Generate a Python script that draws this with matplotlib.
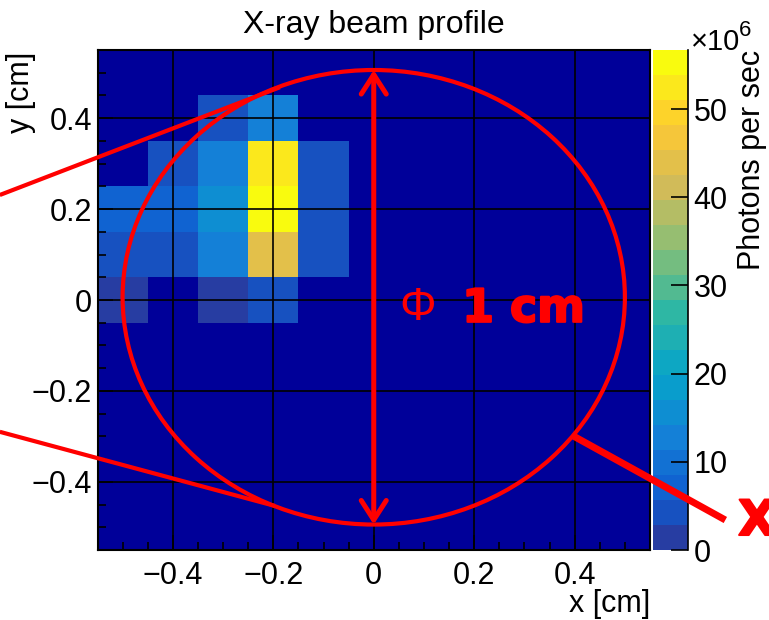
import numpy as np
import matplotlib
matplotlib.use("Agg")
import matplotlib.pyplot as plt
import matplotlib.patheffects as pe
from matplotlib.colors import LinearSegmentedColormap, ListedColormap, BoundaryNorm
from matplotlib.patches import Ellipse
from matplotlib.ticker import MultipleLocator, FuncFormatter

plt.rcParams["font.family"] = ["Liberation Sans", "DejaVu Sans"]

# 11 x 11 bins of 1 mm
x_edges = np.linspace(-0.55, 0.55, 12)
y_edges = np.linspace(-0.55, 0.55, 12)

# photon rate in 1e6 / s, one list per row from y = -0.5 (bottom) to y = 0.5 (top)
zero_row = [0.0] * 11
rate_rows = [
    zero_row,
    zero_row,
    zero_row,
    zero_row,
    zero_row,
    [1.8, 0.0, 1.8, 4.3, 0.0, 0, 0, 0, 0, 0, 0],
    [4.3, 4.3, 12.8, 44.0, 4.3, 0, 0, 0, 0, 0, 0],
    [7.2, 7.2, 15.6, 56.7, 4.3, 0, 0, 0, 0, 0, 0],
    [0.0, 4.3, 12.8, 52.5, 4.3, 0, 0, 0, 0, 0, 0],
    [0.0, 0.0, 4.3, 12.8, 0.0, 0, 0, 0, 0, 0, 0],
    zero_row,
]
cbar_ticks = [0, 10, 20, 30, 40, 50]
x_ticks = [-0.4, -0.2, 0.0, 0.2, 0.4]
y_ticks = [-0.4, -0.2, 0.0, 0.2, 0.4]

# collimator sketch (cm): circle, its diameter arrow and the guide lines
spot_center = (0.0, 0.006)
spot_diameter = 1.0
guide_top = ([-0.7445, -0.187], [0.231, 0.468])
guide_bottom = ([-0.7445, -0.197], [-0.290, -0.453])
guide_right = ([0.397, 0.700], [-0.299, -0.484])

# ROOT kBird palette, 20 contour levels
stops = [0.0, 0.125, 0.25, 0.375, 0.5, 0.625, 0.75, 0.875, 1.0]
red = [0.2082, 0.0592, 0.0780, 0.0232, 0.1802, 0.5301, 0.8186, 0.9956, 0.9764]
green = [0.1664, 0.3599, 0.5041, 0.6419, 0.7178, 0.7492, 0.7328, 0.7862, 0.9832]
blue = [0.5293, 0.8120, 0.8419, 0.7914, 0.6425, 0.4662, 0.3499, 0.1968, 0.0539]
bird = LinearSegmentedColormap.from_list(
    "bird", list(zip(stops, zip(red, green, blue))), N=255)
n_levels = 20
cmap = ListedColormap([bird((i + 0.99) / n_levels) for i in range(n_levels)])

rate = np.ma.masked_equal(np.array(rate_rows), 0.0)
zmax = rate.max()
norm = BoundaryNorm(np.linspace(0, zmax, n_levels + 1), n_levels)

W, H = 769, 620
fig = plt.figure(figsize=(W / 100, H / 100), dpi=100)


def fx(px):
    return px / W


def fy(py):
    return 1 - py / H


ax = fig.add_axes([fx(97.5), fy(550), fx(650) - fx(97.5), fy(50) - fy(550)])
ax.set_zorder(3)  # overlay lines must pass over the palette
ax.set_facecolor("#000099")
mesh = ax.pcolormesh(x_edges, y_edges, rate, cmap=cmap, norm=norm)
ax.set_xlim(-0.55, 0.55)
ax.set_ylim(-0.55, 0.55)

fmt = FuncFormatter(lambda v, _: "0" if abs(v) < 1e-9 else f"{v:.1f}".replace("-", "\u2212"))
ax.set_xticks(x_ticks)
ax.set_yticks(y_ticks)
ax.xaxis.set_major_formatter(fmt)
ax.yaxis.set_major_formatter(fmt)
ax.xaxis.set_minor_locator(MultipleLocator(0.05))
ax.yaxis.set_minor_locator(MultipleLocator(0.05))
ax.tick_params(which="both", direction="in", width=1.2, colors="black", labelsize=22)
ax.tick_params(which="major", length=11)
ax.tick_params(which="minor", length=5.5)
ax.tick_params(axis="x", pad=8)
ax.tick_params(axis="y", pad=4)
ax.grid(True, color="black", lw=1.2)
ax.set_axisbelow(False)
for sp in ax.spines.values():
    sp.set_linewidth(1.5)

# red overlay
ax.add_patch(Ellipse(spot_center, spot_diameter, spot_diameter, fill=False,
                     ec="red", lw=3, zorder=5))
ax.annotate("", xy=(0, spot_center[1] + spot_diameter / 2),
            xytext=(0, spot_center[1] - spot_diameter / 2),
            arrowprops=dict(arrowstyle="<->,head_length=0.7,head_width=0.45",
                            color="red", lw=3.6, shrinkA=0, shrinkB=0,
                            mutation_scale=20),
            zorder=6)
for xs, ys in (guide_top, guide_bottom):
    ax.plot(xs, ys, color="red", lw=3, clip_on=False, zorder=6,
            solid_capstyle="butt")
ax.plot(*guide_right, color="red", lw=5, clip_on=False, zorder=6,
        solid_capstyle="butt")

heavy = [pe.withStroke(linewidth=1.5, foreground="red")]
ax.text(0.088, -0.044, "\u03a6", color="red", fontsize=33, ha="center",
        va="baseline", zorder=7)
ax.text(0.176, -0.048, "1 cm", color="red", fontsize=33, fontweight="bold",
        family="DejaVu Sans", ha="left", va="baseline", path_effects=heavy,
        zorder=7)
ax.text(0.7256, -0.517, "X", color="red", fontsize=35, fontweight="bold",
        family="DejaVu Sans", ha="left", va="baseline", path_effects=heavy,
        zorder=7)

# palette axis
cax = fig.add_axes([fx(653), fy(550), fx(688) - fx(653), fy(50) - fy(550)])
cb = fig.colorbar(mesh, cax=cax, ticks=cbar_ticks)
cb.outline.set_visible(False)
cb.ax.minorticks_off()
cb.ax.set_yticklabels([str(t) for t in cbar_ticks])
cax.tick_params(direction="in", length=12.5, width=1.2, labelsize=22, pad=4)
cax.plot([1, 1], [0, 1], transform=cax.transAxes, color="black", lw=1.2,
         clip_on=False)

fig.text(fx(691), fy(50), "\u00d710", fontsize=21, ha="left", va="baseline")
fig.text(fx(739), fy(36), "6", fontsize=16, ha="left", va="baseline")
fig.text(fx(752), fy(50), "Photons per sec", fontsize=22, rotation=90,
         ha="center", va="top")

fig.text(fx(374), fy(33), "X-ray beam profile", fontsize=23, ha="center",
         va="baseline")
fig.text(fx(650), fy(604), "x [cm]", fontsize=22, ha="right", va="center")
fig.text(fx(21), fy(52), "y [cm]", fontsize=22, rotation=90, ha="center",
         va="top")

fig.savefig("out.png", dpi=100)
